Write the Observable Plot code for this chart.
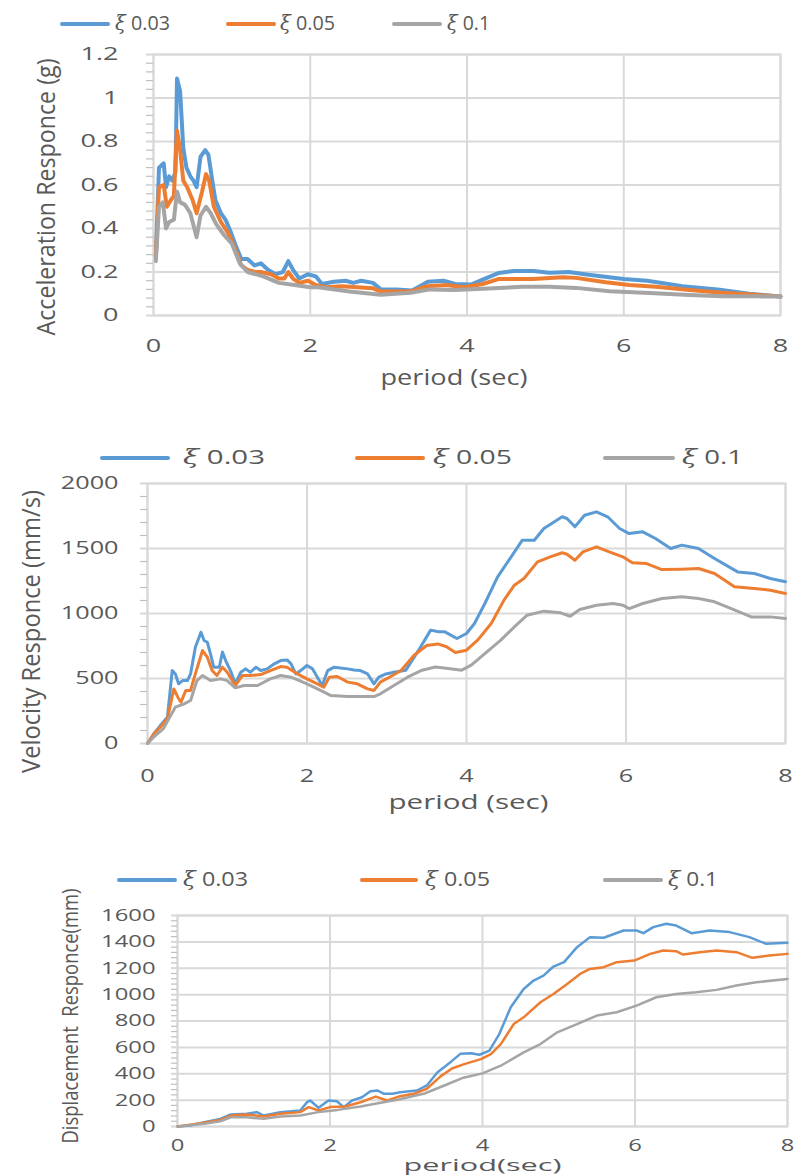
<!DOCTYPE html>
<html><head><meta charset="utf-8">
<script src="https://cdn.jsdelivr.net/npm/d3@7"></script>
<script src="https://cdn.jsdelivr.net/npm/@observablehq/plot@0.6"></script>
<style>
body{margin:0;background:#fff;}
#root{position:relative;width:797px;height:1176px;overflow:hidden;background:#fff;}
</style></head><body><div id="root"></div>
<script>
// ---------- data ----------
const dampingLabels = ["ξ 0.03", "ξ 0.05", "ξ 0.1"];
const seriesColors = ["#5b9bd5", "#ed7d31", "#a5a5a5"];
const periodTicks = [0, 2, 4, 6, 8];
const accTicks = [0, 0.2, 0.4, 0.6, 0.8, 1, 1.2];
const velTicks = [0, 500, 1000, 1500, 2000];
const dispTicks = [0, 200, 400, 600, 800, 1000, 1200, 1400, 1600];

// Acceleration response (g)  [period, value]
const acc003 = [[0.03,0.27],[0.07,0.68],[0.13,0.70],[0.16,0.59],[0.2,0.64],[0.24,0.62],[0.28,0.66],[0.3,1.09],[0.34,1.03],[0.38,0.77],[0.42,0.68],[0.47,0.64],[0.51,0.62],[0.55,0.59],[0.6,0.73],[0.66,0.76],[0.7,0.74],[0.75,0.62],[0.79,0.53],[0.86,0.47],[0.92,0.44],[0.99,0.38],[1.05,0.32],[1.12,0.26],[1.2,0.26],[1.29,0.23],[1.37,0.24],[1.46,0.21],[1.56,0.19],[1.65,0.20],[1.72,0.25],[1.78,0.21],[1.86,0.17],[1.97,0.19],[2.07,0.18],[2.15,0.145],[2.3,0.155],[2.45,0.16],[2.55,0.15],[2.65,0.16],[2.8,0.15],[2.9,0.12],[3.1,0.12],[3.3,0.115],[3.5,0.155],[3.7,0.16],[3.85,0.145],[4.05,0.142],[4.2,0.165],[4.4,0.195],[4.6,0.205],[4.85,0.205],[5.05,0.197],[5.3,0.2],[5.55,0.187],[6.0,0.168],[6.3,0.16],[6.75,0.135],[7.2,0.12],[7.6,0.1],[8.0,0.087]];
const acc005 = [[0.03,0.27],[0.07,0.59],[0.13,0.60],[0.17,0.50],[0.22,0.53],[0.26,0.55],[0.3,0.85],[0.34,0.76],[0.38,0.62],[0.43,0.59],[0.5,0.53],[0.55,0.47],[0.62,0.57],[0.67,0.65],[0.71,0.62],[0.77,0.50],[0.86,0.43],[0.95,0.38],[1.05,0.30],[1.12,0.23],[1.2,0.21],[1.3,0.20],[1.37,0.20],[1.5,0.19],[1.6,0.17],[1.67,0.17],[1.72,0.20],[1.78,0.17],[1.86,0.15],[1.97,0.16],[2.07,0.14],[2.2,0.13],[2.4,0.135],[2.6,0.13],[2.8,0.125],[2.9,0.11],[3.1,0.11],[3.28,0.11],[3.49,0.135],[3.74,0.14],[3.96,0.13],[4.2,0.145],[4.41,0.168],[4.84,0.168],[5.22,0.176],[5.39,0.173],[5.77,0.153],[6.07,0.14],[6.41,0.132],[6.84,0.117],[7.26,0.105],[7.68,0.095],[8.0,0.087]];
const acc010 = [[0.03,0.25],[0.07,0.50],[0.12,0.52],[0.16,0.40],[0.2,0.43],[0.26,0.44],[0.3,0.57],[0.34,0.52],[0.4,0.51],[0.47,0.47],[0.55,0.36],[0.6,0.46],[0.67,0.50],[0.73,0.47],[0.8,0.42],[0.9,0.37],[1.0,0.33],[1.1,0.24],[1.2,0.20],[1.4,0.18],[1.6,0.15],[1.8,0.14],[2.0,0.13],[2.1,0.13],[2.5,0.11],[2.9,0.095],[3.28,0.105],[3.53,0.12],[3.84,0.117],[4.2,0.123],[4.71,0.132],[5.05,0.132],[5.39,0.127],[5.82,0.112],[6.33,0.104],[6.84,0.094],[7.26,0.089],[7.7,0.088],[8.0,0.087]];

// Velocity response (mm/s)
const vel003 = [[0,0],[0.08,75],[0.16,138],[0.25,203],[0.31,561],[0.35,535],[0.39,460],[0.44,484],[0.5,484],[0.54,535],[0.6,741],[0.67,856],[0.71,792],[0.75,779],[0.79,690],[0.83,587],[0.9,587],[0.94,703],[0.98,638],[1.04,561],[1.1,459],[1.17,548],[1.23,574],[1.29,548],[1.36,587],[1.42,561],[1.5,574],[1.59,613],[1.67,638],[1.75,643],[1.8,613],[1.86,535],[1.92,561],[2.0,600],[2.07,574],[2.13,510],[2.19,446],[2.26,561],[2.34,587],[2.42,580],[2.51,574],[2.59,566],[2.67,561],[2.76,535],[2.84,459],[2.9,510],[2.99,535],[3.09,548],[3.24,564],[3.4,718],[3.55,872],[3.65,859],[3.73,859],[3.88,808],[4.0,846],[4.1,923],[4.23,1077],[4.39,1282],[4.56,1436],[4.7,1564],[4.85,1564],[4.97,1654],[5.2,1744],[5.26,1731],[5.36,1667],[5.48,1756],[5.63,1782],[5.77,1744],[5.92,1654],[6.04,1615],[6.21,1628],[6.37,1577],[6.56,1500],[6.7,1526],[6.91,1500],[7.11,1423],[7.4,1320],[7.61,1308],[7.81,1269],[8.0,1244]];
const vel005 = [[0,0],[0.08,75],[0.16,125],[0.25,190],[0.33,420],[0.38,356],[0.42,318],[0.48,408],[0.54,408],[0.6,535],[0.69,715],[0.75,664],[0.81,561],[0.87,523],[0.94,587],[1.0,548],[1.1,446],[1.19,523],[1.29,523],[1.42,530],[1.54,561],[1.67,592],[1.75,587],[1.88,535],[2.0,497],[2.13,459],[2.21,433],[2.28,510],[2.38,515],[2.51,472],[2.63,459],[2.76,420],[2.84,408],[2.92,472],[3.05,515],[3.18,561],[3.34,677],[3.5,754],[3.64,766],[3.75,744],[3.86,700],[4.0,718],[4.14,795],[4.31,923],[4.47,1103],[4.6,1218],[4.72,1269],[4.89,1397],[5.05,1436],[5.2,1467],[5.26,1456],[5.36,1410],[5.46,1474],[5.63,1513],[5.79,1474],[5.96,1436],[6.08,1390],[6.25,1385],[6.45,1338],[6.7,1341],[6.91,1346],[7.11,1308],[7.36,1205],[7.61,1192],[7.81,1179],[8.0,1154]];
const vel010 = [[0,0],[0.08,51],[0.2,115],[0.28,203],[0.35,280],[0.46,305],[0.54,331],[0.62,484],[0.69,523],[0.79,484],[0.92,497],[1.0,484],[1.1,428],[1.21,446],[1.38,446],[1.54,497],[1.67,523],[1.8,510],[2.0,459],[2.17,408],[2.3,369],[2.51,361],[2.84,361],[2.92,382],[3.09,446],[3.26,510],[3.43,561],[3.61,588],[3.77,577],[3.94,564],[4.06,603],[4.23,692],[4.43,795],[4.6,897],[4.76,987],[4.97,1018],[5.18,1005],[5.3,979],[5.42,1031],[5.63,1064],[5.84,1077],[5.96,1064],[6.04,1038],[6.21,1077],[6.45,1115],[6.7,1128],[6.91,1115],[7.11,1090],[7.32,1038],[7.57,974],[7.81,974],[8.0,961]];

// Displacement response (mm)
const disp003 = [[0,0],[0.17,8],[0.35,33],[0.56,58],[0.7,91],[0.91,96],[1.04,109],[1.13,83],[1.35,109],[1.61,121],[1.7,185],[1.74,197],[1.85,142],[1.98,197],[2.09,192],[2.18,147],[2.29,197],[2.42,222],[2.53,268],[2.62,273],[2.71,248],[2.82,248],[2.92,260],[3.14,273],[3.27,311],[3.41,412],[3.58,488],[3.71,551],[3.85,555],[3.96,544],[4.09,575],[4.22,701],[4.37,904],[4.54,1043],[4.67,1107],[4.8,1144],[4.93,1213],[5.07,1246],[5.24,1360],[5.41,1436],[5.59,1431],[5.67,1448],[5.85,1486],[6.02,1486],[6.11,1466],[6.24,1512],[6.41,1537],[6.54,1524],[6.74,1466],[6.98,1486],[7.24,1474],[7.5,1436],[7.72,1385],[8.0,1393]];
const disp005 = [[0,0],[0.35,28],[0.56,50],[0.7,83],[0.91,91],[1.13,76],[1.35,96],[1.61,109],[1.72,147],[1.85,121],[2.0,147],[2.2,152],[2.4,184],[2.6,227],[2.75,197],[2.9,227],[3.1,248],[3.27,286],[3.45,380],[3.6,440],[3.76,473],[3.98,511],[4.11,549],[4.24,625],[4.41,777],[4.54,828],[4.76,942],[4.93,1005],[5.11,1081],[5.28,1157],[5.41,1195],[5.59,1208],[5.76,1246],[5.99,1258],[6.2,1309],[6.37,1334],[6.54,1329],[6.63,1304],[6.85,1322],[7.07,1334],[7.33,1322],[7.54,1279],[7.76,1296],[8.0,1309]];
const disp010 = [[0,0],[0.35,20],[0.56,40],[0.7,70],[0.91,70],[1.13,58],[1.35,76],[1.61,83],[1.85,109],[2.1,126],[2.4,152],[2.7,184],[2.9,205],[3.24,250],[3.5,311],[3.75,370],[4.0,403],[4.24,461],[4.54,562],[4.76,625],[4.98,714],[5.24,777],[5.5,841],[5.76,866],[6.02,917],[6.28,980],[6.54,1005],[6.8,1018],[7.07,1036],[7.33,1069],[7.59,1094],[8.0,1119]];

// ---------- drawing ----------
const root = document.getElementById("root");
const GRID = "#d9d9d9", TXT = "#595959";

function makePanel(c) {
  const svg = Plot.plot({
    width: 797, height: c.height,
    marginTop: c.mt, marginBottom: c.mb, marginLeft: c.ml, marginRight: c.mr,
    style: {fontFamily: "'Open Sans', sans-serif", color: TXT, background: "transparent", overflow: "visible"},
    x: {domain: [0, 8]},
    y: {domain: c.yDomain},
    marks: [
      Plot.gridY(c.yTicks, {stroke: GRID, strokeOpacity: 1, strokeWidth: 2}),
      Plot.gridX(periodTicks, {stroke: GRID, strokeOpacity: 1, strokeWidth: 2}),
      Plot.frame({stroke: GRID, strokeWidth: 2}),
      Plot.axisY(c.yMinor, {tickSize: c.tick, tickFormat: () => "", stroke: "#bfbfbf", strokeWidth: 1.2, label: null}),
      Plot.axisY(c.yTicks, {tickSize: c.tick, tickPadding: c.yPad, tickFormat: d => String(d), stroke: GRID, strokeWidth: 2, fontSize: c.tickFont, label: null}),
      Plot.axisX(periodTicks, {tickSize: 0, tickPadding: c.xPad, tickFormat: d => String(d), fontSize: c.tickFont, label: null}),
      ...c.series.map((s, i) => Plot.line(s, {x: d => d[0], y: d => d[1], stroke: seriesColors[i], strokeWidth: c.lw, strokeLinejoin: "round", strokeLinecap: "round"})),
      Plot.text([c.yTitle], {frameAnchor: "left", text: d => d, rotate: -90, dx: c.ytDx, dy: c.ytDy, fontSize: c.ytFont, fill: TXT, textAnchor: "middle", lineAnchor: "middle"}),
      Plot.text([c.xTitle], {frameAnchor: "bottom", text: d => d, dx: c.xtDx, dy: c.xtDy, fontSize: c.xtFont, fill: TXT, textAnchor: "middle", lineAnchor: "middle"})
    ]
  });
  svg.style.position = "absolute";
  svg.style.left = "0px";
  svg.style.top = c.top + "px";
  root.appendChild(svg);
  // widen tick labels like the reference
  svg.querySelectorAll('g[aria-label="x-axis tick label"] text, g[aria-label="y-axis tick label"] text').forEach(t => {
    const L = t.getComputedTextLength();
    if (L > 0) { t.setAttribute("textLength", L * c.stretch); t.setAttribute("lengthAdjust", "spacingAndGlyphs"); }
  });
  svg.querySelectorAll("text").forEach(t => {
    if (t.textContent === c.yTitle) { t.setAttribute("textLength", c.ytLen); t.setAttribute("lengthAdjust", "spacingAndGlyphs"); }
    if (t.textContent === c.xTitle) { t.setAttribute("textLength", c.xtLen); t.setAttribute("lengthAdjust", "spacingAndGlyphs"); }
  });
}

function addLegend(yc, items) {
  items.forEach((it, i) => {
    const line = document.createElement("div");
    line.style.cssText = `position:absolute;left:${it.x1}px;top:${yc - 2}px;width:${it.x2 - it.x1}px;height:4px;background:${seriesColors[i]};border-radius:2px`;
    root.appendChild(line);
    const t = document.createElement("div");
    t.style.cssText = `position:absolute;left:${it.tx}px;top:${yc - 11}px;font:20px/20px 'Open Sans',sans-serif;color:${TXT};white-space:nowrap;transform-origin:0 50%`;
    const lab = dampingLabels[i];
    t.innerHTML = `<span style="font-family:'DejaVu Serif',serif;font-style:italic">${lab.slice(0, 1)}</span>${lab.slice(1)}`;
    root.appendChild(t);
    const w = t.getBoundingClientRect().width;
    t.style.transform = `scaleX(${it.tw / w})`;
  });
}

// Panel 1: acceleration
addLegend(24, [{x1: 60, x2: 110, tx: 115, tw: 55}, {x1: 226, x2: 276, tx: 280, tw: 55}, {x1: 392, x2: 442, tx: 447, tw: 43}]);
makePanel({
  top: 40, height: 355, mt: 14, mb: 80, ml: 153, mr: 17,
  yDomain: [0, 1.2], yTicks: accTicks, yMinor: d3.range(0, 1.2001, 0.04),
  tick: 7, yPad: 28, xPad: 24, tickFont: 18, stretch: 1.5, lw: 4,
  series: [acc003, acc005, acc010],
  yTitle: "Acceleration Responce (g)", ytDx: -107, ytDy: 12, ytFont: 26, ytLen: 277,
  xTitle: "period (sec)", xtDx: -13, xtDy: 63, xtFont: 21, xtLen: 147
});

// Panel 2: velocity
addLegend(458, [{x1: 100, x2: 170, tx: 183, tw: 82}, {x1: 355, x2: 425, tx: 433, tw: 79}, {x1: 603, x2: 675, tx: 682, tw: 61}]);
makePanel({
  top: 470, height: 345, mt: 13, mb: 72, ml: 147, mr: 12,
  yDomain: [0, 2000], yTicks: velTicks, yMinor: d3.range(0, 2001, 100),
  tick: 7, yPad: 22, xPad: 26, tickFont: 18, stretch: 1.4, lw: 3,
  series: [vel003, vel005, vel010],
  yTitle: "Velocity Responce (mm/s)", ytDx: -116, ytDy: 18, ytFont: 26, ytLen: 283,
  xTitle: "period (sec)", xtDx: 2, xtDy: 59, xtFont: 20, xtLen: 160
});

// Panel 3: displacement
addLegend(880, [{x1: 117, x2: 177, tx: 183, tw: 65}, {x1: 360, x2: 418, tx: 425, tw: 65}, {x1: 603, x2: 663, tx: 668, tw: 50}]);
makePanel({
  top: 900, height: 276, mt: 15, mb: 50, ml: 177, mr: 10,
  yDomain: [0, 1600], yTicks: dispTicks, yMinor: d3.range(0, 1601, 40),
  tick: 6, yPad: 16, xPad: 12, tickFont: 17, stretch: 1.4, lw: 2.5,
  series: [disp003, disp005, disp010],
  yTitle: "Displacement  Responce(mm)", ytDx: -106, ytDy: -5, ytFont: 21, ytLen: 255,
  xTitle: "period(sec)", xtDx: 0, xtDy: 39, xtFont: 17, xtLen: 158
});
</script></body></html>
